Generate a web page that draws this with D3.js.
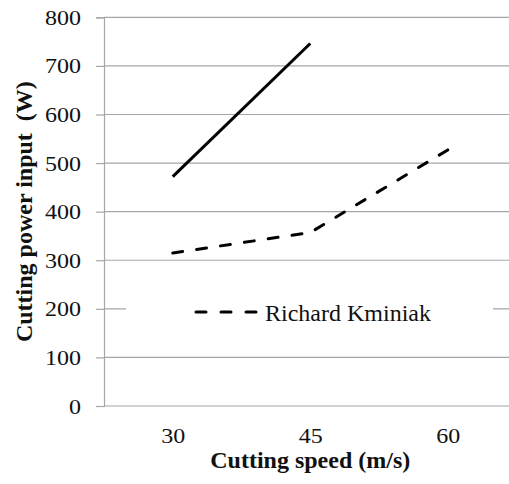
<!DOCTYPE html>
<html>
<head>
<meta charset="utf-8">
<script src="https://cdn.jsdelivr.net/npm/d3@7"></script>
<style>
  html, body { margin: 0; padding: 0; background: #fff; }
  svg { display: block; }
</style>
</head>
<body>
<script>
const categories = ["30", "45", "60"];
const seriesSolid = [472, 746];           // unnamed series (30, 45)
const seriesDashed = [315, 357, 527];     // Richard Kminiak
const yTicks = [0, 100, 200, 300, 400, 500, 600, 700, 800];
const legendLabel = "Richard Kminiak";
const xTitle = "Cutting speed (m/s)";
const yTitle = "Cutting power input  (W)";

const W = 509, H = 484;
const svg = d3.select("body").append("svg").attr("width", W).attr("height", H);
svg.append("rect").attr("width", W).attr("height", H).attr("fill", "#fff");

const plotL = 104, plotR = 516.5, plotT = 17.3, plotB = 406;
const x = d3.scalePoint().domain(categories).range([plotL, plotR]).padding(0.5);
const y = d3.scaleLinear().domain([0, 800]).range([plotB, plotT]);

const grid = "#a6a6a6";
const font = "'Liberation Serif', 'Times New Roman', serif";

// gridlines
svg.append("g").selectAll("line").data(yTicks.filter(d => d > 0)).join("line")
  .attr("x1", plotL).attr("x2", plotR)
  .attr("y1", d => y(d)).attr("y2", d => y(d))
  .attr("stroke", grid).attr("stroke-width", 1.2);

// y axis
const yAxis = svg.append("g").attr("transform", `translate(${plotL},0)`)
  .call(d3.axisLeft(y).tickValues(yTicks).tickSize(8).tickPadding(0).tickFormat(d3.format("d")));
yAxis.attr("font-family", null).attr("font-size", null);
yAxis.select(".domain").attr("stroke", grid).attr("stroke-width", 1.2);
yAxis.selectAll(".tick line").attr("stroke", grid).attr("stroke-width", 1.2);
yAxis.selectAll(".tick text").remove();
yAxis.selectAll(".tick").append("text")
  .attr("transform", "translate(-23,7) scale(1.2,1)")
  .attr("text-anchor", "end")
  .attr("fill", "#111")
  .style("font-family", font).style("font-size", "20px")
  .text(d => d);

// x axis
const xAxis = svg.append("g").attr("transform", `translate(0,${plotB})`)
  .call(d3.axisBottom(x).tickSize(0).tickSizeOuter(0).tickPadding(0));
xAxis.attr("font-family", null).attr("font-size", null);
xAxis.select(".domain").attr("stroke", grid).attr("stroke-width", 1.2)
  .attr("d", `M${plotL},0H${plotR}`);
xAxis.selectAll(".tick text").remove();
xAxis.selectAll(".tick").append("text")
  .attr("transform", "translate(0,37) scale(1.2,1)")
  .attr("text-anchor", "middle")
  .attr("fill", "#111")
  .style("font-family", font).style("font-size", "20px")
  .text(d => d);

// lines
const line = d3.line().x((d, i) => x(categories[i])).y(d => y(d));
svg.append("path").datum(seriesSolid).attr("d", line)
  .attr("fill", "none").attr("stroke", "#000").attr("stroke-width", 3);
const dashed = svg.append("path").datum(seriesDashed).attr("d", line)
  .attr("fill", "none").attr("stroke", "#000").attr("stroke-width", 3)
  .attr("stroke-linecap", "round");
// fit dash pattern so it starts and ends with a dash
const L = dashed.node().getTotalLength();
const dashLen = 10;
const n = Math.max(1, Math.round((L - dashLen) / 25));
const gapLen = (L - dashLen) / n - dashLen;
dashed.attr("stroke-dasharray", `${dashLen},${gapLen}`);

// legend
svg.append("rect").attr("x", 126).attr("y", 292).attr("width", 367).attr("height", 38).attr("fill", "#fff");
svg.append("line").attr("x1", 196).attr("x2", 258).attr("y1", 312).attr("y2", 312)
  .attr("stroke", "#000").attr("stroke-width", 3)
  .attr("stroke-dasharray", "10,15").attr("stroke-linecap", "round");
svg.append("text").attr("x", 265).attr("y", 320.5)
  .attr("fill", "#111")
  .style("font-family", font).style("font-size", "24px")
  .text(legendLabel);

// titles
svg.append("text").attr("x", x("45")).attr("y", 468)
  .attr("text-anchor", "middle").attr("fill", "#111")
  .style("font-family", font).style("font-size", "24px").style("font-weight", "bold")
  .text(xTitle);
svg.append("text")
  .attr("transform", `translate(32,${(plotT + plotB) / 2}) rotate(-90)`)
  .attr("text-anchor", "middle").attr("fill", "#111")
  .style("font-family", font).style("font-size", "24px").style("font-weight", "bold")
  .style("white-space", "pre")
  .text(yTitle);
</script>
</body>
</html>
